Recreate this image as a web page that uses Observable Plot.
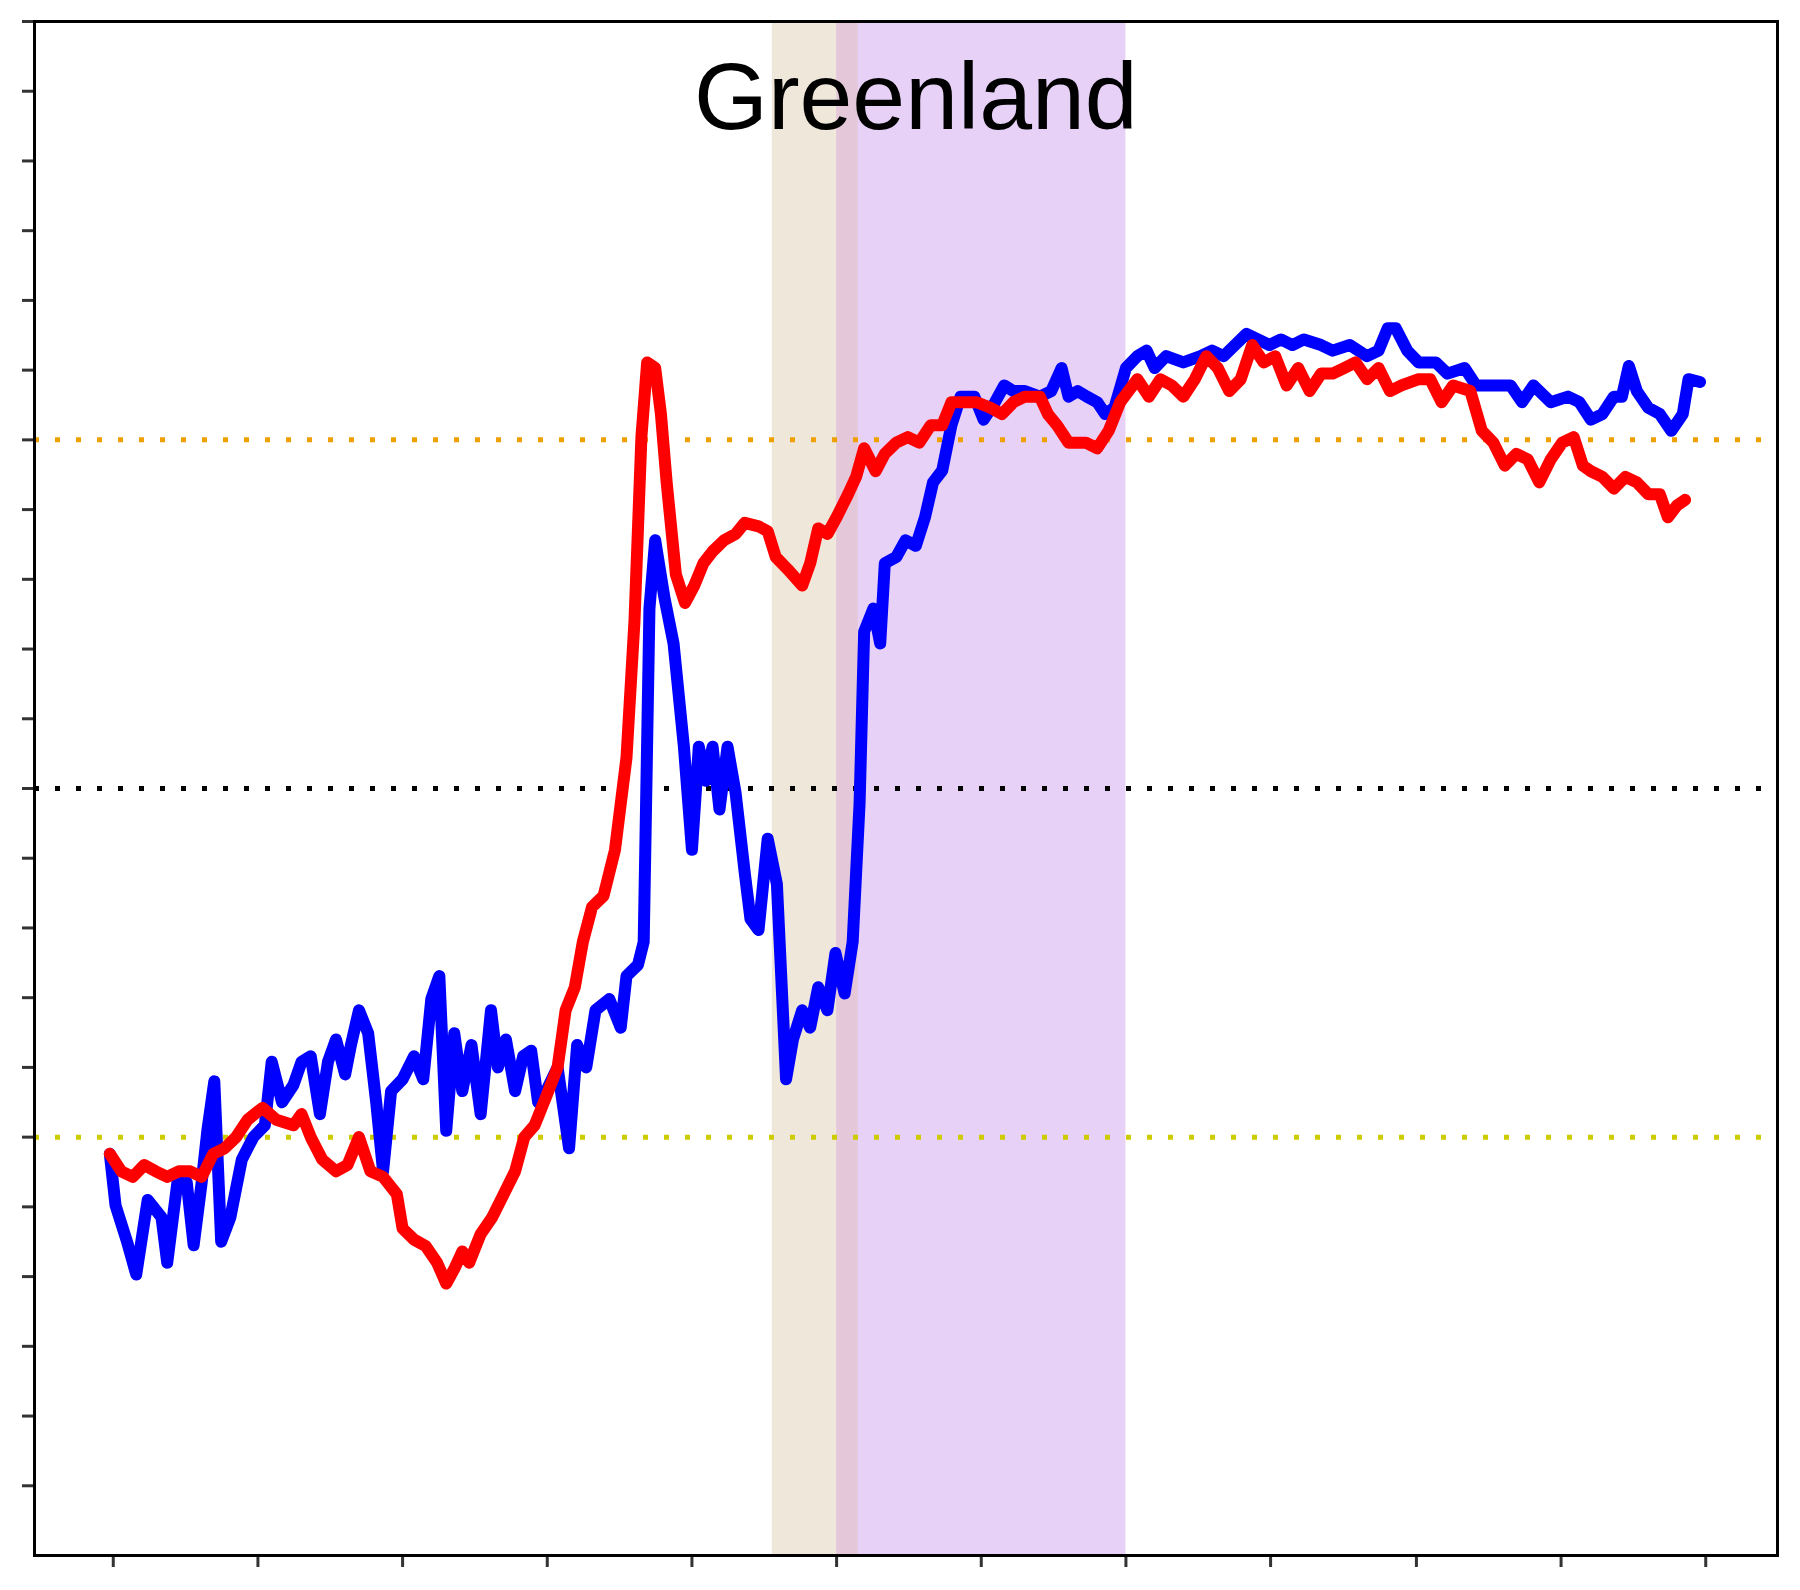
<!DOCTYPE html>
<html><head><meta charset="utf-8">
<script src="https://cdn.jsdelivr.net/npm/d3@7"></script>
<script src="https://cdn.jsdelivr.net/npm/@observablehq/plot@0.6"></script>
<style>body{margin:0;background:#fff}</style>
</head><body><div id="chart"></div>
<script>
// x in arbitrary time units (tick spacing 126), y in data units
const xTicks = [98, 224, 350, 476, 602, 728, 854, 980, 1106, 1233, 1359, 1485];
const yTicks = d3.range(1, 23);
const refLines = [{y: 16, c: "#f0a000"}, {y: 11, c: "#000000"}, {y: 6, c: "#cccc00"}];
const spans = [
  {x1: 672, x2: 728, c: "#efe7da"},
  {x1: 728, x2: 747, c: "#e4c8da"},
  {x1: 747, x2: 980, c: "#e8d1f7"}
];
const blueX = [95,100,110,118,128,140,145,155,162,168,175,180,186,192,200,210,220,230,236,245,255,262,270,278,285,292,300,305,312,320,327,333,340,350,360,368,375,382,388,395,402,410,418,427,433,440,448,455,462,468,475,485,495,502,510,518,530,540,545,555,560,565,570,578,586,595,602,608,614,620,626,633,640,648,653,660,668,676,684,690,698,705,712,720,727,735,742,748,752,760,766,770,780,788,797,805,812,820,828,836,848,856,866,874,882,892,905,915,924,930,938,946,955,962,970,980,990,998,1005,1015,1030,1045,1055,1065,1075,1085,1095,1105,1115,1125,1135,1150,1160,1175,1190,1200,1208,1215,1225,1235,1250,1260,1275,1285,1300,1315,1325,1335,1350,1365,1375,1385,1395,1405,1412,1418,1425,1435,1445,1455,1465,1470,1480];
const blueY = [5.76,5.02,4.5,4.03,5.1,4.85,4.2,5.5,5.35,4.45,5.35,6.1,6.8,4.5,4.85,5.68,6.0,6.17,7.08,6.5,6.75,7.08,7.16,6.33,7.08,7.4,6.9,7.32,7.82,7.49,6.5,5.51,6.66,6.83,7.16,6.83,7.98,8.31,6.09,7.49,6.66,7.32,6.33,7.82,7.0,7.4,6.66,7.16,7.24,6.5,6.66,7.0,5.84,7.32,7.0,7.82,7.98,7.57,8.31,8.47,8.8,13.58,14.56,13.74,13.08,11.6,10.12,11.6,11.11,11.6,10.7,11.6,10.94,9.79,9.13,8.97,10.28,9.63,6.83,7.4,7.82,7.57,8.15,7.82,8.64,8.06,8.8,10.78,13.25,13.58,13.08,14.23,14.32,14.56,14.48,14.89,15.39,15.56,16.21,16.62,16.62,16.29,16.54,16.78,16.7,16.7,16.62,16.7,17.03,16.62,16.7,16.62,16.54,16.37,16.46,17.03,17.2,17.28,17.03,17.2,17.11,17.2,17.28,17.2,17.36,17.52,17.44,17.36,17.44,17.36,17.44,17.36,17.28,17.36,17.2,17.28,17.6,17.6,17.28,17.11,17.11,16.95,17.03,16.78,16.78,16.78,16.54,16.78,16.54,16.62,16.54,16.29,16.37,16.62,16.62,17.06,16.7,16.46,16.37,16.13,16.37,16.87,16.83];
const redX = [95,105,115,125,135,145,155,165,175,185,195,205,215,228,240,255,262,270,280,292,302,312,322,333,345,350,360,370,380,388,395,402,408,418,428,438,448,456,465,475,485,492,500,507,515,525,535,545,552,558,563,570,575,580,588,596,604,612,620,630,640,648,660,668,675,685,698,705,712,720,728,738,745,752,762,770,780,790,800,810,820,828,840,850,862,872,882,892,905,912,920,930,945,955,965,975,990,1000,1010,1020,1030,1040,1050,1060,1070,1080,1090,1100,1110,1120,1130,1140,1150,1160,1170,1180,1190,1200,1210,1220,1235,1245,1255,1265,1280,1290,1300,1310,1320,1330,1340,1350,1360,1370,1378,1385,1395,1405,1415,1425,1435,1445,1452,1460,1467];
const redY = [5.76,5.51,5.43,5.6,5.51,5.43,5.51,5.51,5.43,5.76,5.84,6.0,6.25,6.42,6.25,6.17,6.33,6.0,5.68,5.51,5.6,6.0,5.51,5.43,5.18,4.69,4.53,4.44,4.2,3.9,4.11,4.36,4.2,4.61,4.85,5.18,5.51,6.0,6.17,6.58,7.0,7.82,8.15,8.8,9.3,9.46,10.12,11.44,13.41,16.04,17.11,17.03,16.37,15.39,14.07,13.66,13.91,14.23,14.4,14.56,14.65,14.81,14.76,14.69,14.32,14.15,13.91,14.23,14.73,14.65,14.89,15.22,15.47,15.88,15.55,15.8,15.96,16.04,15.96,16.21,16.21,16.54,16.54,16.54,16.46,16.37,16.54,16.62,16.62,16.37,16.21,15.96,15.96,15.88,16.13,16.54,16.87,16.62,16.87,16.78,16.62,16.87,17.2,17.03,16.7,16.87,17.36,17.11,17.2,16.78,17.03,16.7,16.95,16.95,17.03,17.11,16.87,17.03,16.7,16.78,16.87,16.87,16.54,16.78,16.7,16.13,15.96,15.63,15.8,15.72,15.39,15.72,15.96,16.04,15.63,15.55,15.47,15.3,15.47,15.39,15.22,15.22,14.89,15.06,15.14];

const blue = blueX.map((x, i) => ({x, y: blueY[i]}));
const red = redX.map((x, i) => ({x, y: redY[i]}));

const chart = Plot.plot({
  width: 1800, height: 1590,
  marginLeft: 34, marginRight: 23, marginTop: 21, marginBottom: 35,
  style: {fontFamily: "Liberation Sans, Arial, sans-serif", background: "#fff"},
  x: {domain: [29.4, 1547.5], ticks: xTicks, tickFormat: () => "", tickSize: 12, label: null},
  y: {domain: [0, 22], ticks: yTicks, tickFormat: () => "", tickSize: 12, label: null},
  marks: [
    Plot.rectX(spans, {x1: "x1", x2: "x2", y1: 0, y2: 22, fill: "c"}),
    Plot.ruleY(refLines, {y: "y", stroke: "c", strokeWidth: 5, strokeDasharray: "5,16"}),
    Plot.line(blue, {x: "x", y: "y", stroke: "#0000ff", strokeWidth: 12, strokeLinejoin: "round"}),
    Plot.line(red, {x: "x", y: "y", stroke: "#ff0000", strokeWidth: 12, strokeLinejoin: "round"}),
    Plot.text(["Greenland"], {x: 797, y: 20.9, text: d => d, fontSize: 95, fill: "#000", textAnchor: "middle"}),
    Plot.axisX({ticks: xTicks, tickFormat: () => "", tickSize: 12, stroke: "#333", strokeWidth: 3}),
    Plot.axisY({ticks: yTicks, tickFormat: () => "", tickSize: 12, stroke: "#333", strokeWidth: 3}),
    Plot.frame({stroke: "#000", strokeWidth: 3})
  ]
});
document.getElementById("chart").appendChild(chart);
</script></body></html>
